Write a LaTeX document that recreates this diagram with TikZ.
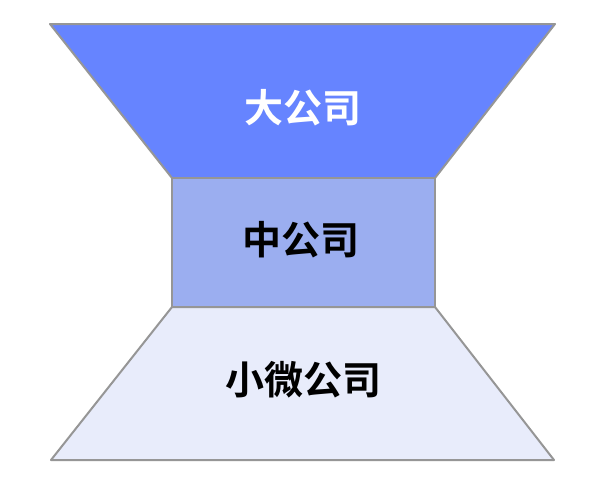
\documentclass[tikz,border=0pt]{standalone}
\usepackage{fontspec}
\newfontfamily\cjk{Noto Sans CJK SC Bold}
\definecolor{topc}{RGB}{102,132,255}
\definecolor{midc}{RGB}{155,174,240}
\definecolor{botc}{RGB}{232,236,251}
\definecolor{edgec}{RGB}{150,150,150}
\begin{document}
\begin{tikzpicture}[x=1pt,y=-1pt,
  seg/.style={draw=edgec,line width=2pt,line join=round},
  lbl/.style={font=\cjk\fontsize{39}{44}\selectfont,inner sep=0pt}]
\useasboundingbox (0,0) rectangle (606,490);
\fill[white] (0,0) rectangle (606,490);
\draw[seg,fill=topc] (50,24) -- (555,24) -- (435,178) -- (172,178) -- cycle;
\draw[seg,fill=midc] (172,178) rectangle (435,307);
\draw[seg,fill=botc] (172,307) -- (435,307) -- (554,460) -- (51,460) -- cycle;
\node[lbl,text=white] (big) at (303,108) {大公司};
\node[lbl,text=black] (mid) at (301,240) {中公司};
\node[lbl,text=black] (small) at (303,380) {小微公司};
\end{tikzpicture}
\end{document}
